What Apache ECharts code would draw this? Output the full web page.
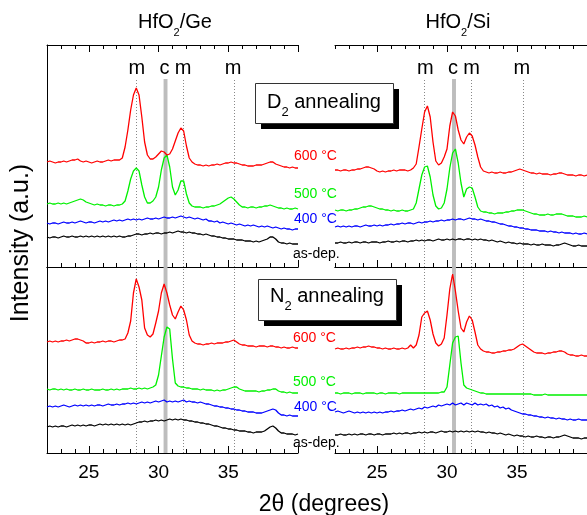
<!DOCTYPE html>
<html>
<head>
<meta charset="utf-8">
<script src="https://cdn.jsdelivr.net/npm/echarts@6/dist/echarts.min.js"></script>
<style>
  html, body { margin: 0; padding: 0; background: #fff; }
  #chart { width: 587px; height: 515px; }
</style>
</head>
<body>
<div id="chart"></div>
<script>
// XRD scans of HfO2 films on Ge and Si, D2 and N2 annealing, offset for clarity.
const twoTheta = [
  22, 22.2, 22.4, 22.6, 22.8, 23, 23.2, 23.4, 23.6, 23.8,
  24, 24.2, 24.4, 24.6, 24.8, 25, 25.2, 25.4, 25.6, 25.8,
  26, 26.2, 26.4, 26.6, 26.8, 27, 27.2, 27.4, 27.6, 27.8,
  28, 28.2, 28.4, 28.6, 28.8, 29, 29.2, 29.4, 29.6, 29.8,
  30, 30.2, 30.4, 30.6, 30.8, 31, 31.2, 31.4, 31.6, 31.8,
  32, 32.2, 32.4, 32.6, 32.8, 33, 33.2, 33.4, 33.6, 33.8,
  34, 34.2, 34.4, 34.6, 34.8, 35, 35.2, 35.4, 35.6, 35.8,
  36, 36.2, 36.4, 36.6, 36.8, 37, 37.2, 37.4, 37.6, 37.8,
  38, 38.2, 38.4, 38.6, 38.8, 39, 39.2, 39.4, 39.6, 39.8,
  40
];

// HfO2/Ge, D2 annealing
const geD2_600 = [
  105,106,105,104,105,105,106,105,106,107,
  107,108,106,105,106,105,104,105,106,105,
  105,106,107,106,107,107,107,109,120,137,
  157,172,179,172,150,125,112,108,108,110,
  113,116,115,112,113,118,126,134,139,136,
  121,109,105,103,102,102,101,102,101,102,
  102,103,102,103,104,104,105,104,104,103,
  102,102,101,101,101,102,102,102,103,104,
  105,105,103,102,101,100,100,99,100,99,
  99
];
const geD2_500 = [
  63,64,63,63,64,63,64,63,64,65,
  66,67,68,67,65,64,63,62,63,62,
  62,61,62,62,61,62,62,63,66,76,
  88,96,99,96,82,70,64,64,66,70,
  80,97,109,112,100,80,72,77,86,86,
  73,64,61,60,60,60,59,60,60,61,
  61,62,63,65,67,69,70,68,65,62,
  60,60,59,60,60,59,60,60,61,61,
  62,61,60,59,59,58,59,58,58,59,
  58
];
const geD2_400 = [
  44,43,44,44,43,44,45,44,44,45,
  44,45,46,45,44,45,45,44,45,46,
  45,46,45,46,47,46,47,46,47,48,
  47,48,47,48,47,48,49,48,48,49,
  48,49,50,49,49,50,49,50,51,50,
  49,50,49,48,49,48,47,48,46,46,
  45,46,44,45,44,43,44,43,42,43,
  42,41,42,41,42,41,40,41,40,41,
  40,39,40,39,38,39,38,38,37,38,
  38
];
const geD2_asdep = [
  30,29,30,30,29,30,31,30,30,31,
  30,30,31,30,31,30,31,30,31,30,
  31,30,31,30,31,30,31,30,30,31,
  31,32,33,33,32,33,33,34,33,34,
  34,33,34,34,35,34,35,36,35,35,
  34,35,34,34,33,33,32,33,32,31,
  31,30,30,29,29,28,28,28,27,27,
  27,26,26,26,25,26,25,26,27,28,
  30,30,28,25,24,24,23,24,23,23,
  23
];

// HfO2/Si, D2 annealing
const siD2_600 = [
  97,97,96,97,97,96,97,97,98,98,
  99,100,100,99,98,96,95,96,95,96,
  96,97,96,97,97,97,96,97,99,103,
  120,138,155,161,150,125,106,102,104,110,
  118,141,155,151,137,127,123,130,134,131,
  122,110,100,96,95,94,95,94,94,95,
  94,94,95,95,96,97,98,97,96,95,
  94,94,93,94,93,93,93,92,93,93,
  94,94,93,92,92,92,91,92,92,91,
  92
];
const siD2_500 = [
  57,56,57,57,56,57,57,58,58,59,
  60,60,61,61,60,59,58,58,57,57,
  56,57,56,56,57,56,56,57,58,64,
  78,92,100,101,90,72,61,58,59,64,
  78,99,114,118,104,84,70,78,80,79,
  70,60,56,55,55,54,54,53,54,54,
  54,55,55,56,56,57,57,57,56,55,
  54,53,53,52,52,52,53,52,52,53,
  53,53,52,51,51,51,50,50,50,51,
  50
];
const siD2_400 = [
  40,41,40,41,40,41,40,41,41,40,
  41,42,41,41,42,41,42,41,42,42,
  43,42,43,43,44,43,44,44,43,44,
  45,44,45,45,46,45,46,46,47,46,
  47,47,48,47,48,48,47,48,49,48,
  48,47,48,47,46,46,45,45,44,43,
  43,42,41,41,40,40,39,39,38,38,
  37,37,37,36,36,36,35,36,35,35,
  34,35,34,34,34,33,34,33,33,34,
  33
];
const siD2_asdep = [
  24,24,25,24,24,25,24,25,25,24,
  25,25,24,25,25,25,24,25,25,26,
  25,25,26,25,26,26,25,26,26,27,
  26,27,26,27,27,26,27,28,27,27,
  28,27,28,27,28,28,27,28,28,27,
  28,27,28,27,27,26,27,26,25,26,
  25,24,25,24,24,23,24,23,23,23,
  22,23,22,22,23,22,22,22,21,22,
  22,23,24,23,22,21,21,22,21,21,
  21
];

// HfO2/Ge, N2 annealing
const geN2_600 = [
  111,112,111,112,111,112,112,113,112,113,
  114,114,113,112,110,110,111,110,111,111,
  112,111,112,112,111,112,113,113,114,120,
  132,160,174,166,153,125,118,116,119,130,
  142,160,169,160,148,138,134,141,147,143,
  133,118,112,110,109,109,108,109,109,110,
  109,110,110,110,111,111,112,113,111,109,
  108,108,107,107,107,106,107,107,107,106,
  107,107,106,106,105,106,105,105,106,105,
  105
];
const geN2_500 = [
  64,63,64,64,63,64,63,64,63,63,
  64,63,63,64,63,63,64,63,63,63,
  64,63,63,64,63,64,63,64,64,64,
  65,64,64,65,64,65,64,65,66,68,
  78,97,116,126,124,94,70,67,66,66,
  65,65,64,64,64,63,64,63,63,63,
  62,63,62,63,63,64,65,66,66,64,
  63,62,62,62,62,62,61,62,62,63,
  63,64,64,62,61,61,60,61,60,60,
  60
];
const geN2_400 = [
  46,47,46,47,46,47,48,47,46,47,
  48,47,48,47,48,47,48,47,48,48,
  47,48,49,48,48,49,48,49,49,50,
  49,50,49,50,51,50,51,50,51,52,
  51,52,53,51,52,51,52,51,52,53,
  51,52,51,51,50,51,50,49,49,48,
  47,47,46,46,45,45,44,44,43,43,
  42,42,41,41,41,40,40,40,41,42,
  43,44,43,40,38,38,37,38,37,37,
  37
];
const geN2_asdep = [
  26,27,26,27,26,27,27,26,27,28,
  27,28,27,28,27,28,28,27,28,29,
  28,29,28,29,28,29,28,29,28,29,
  28,29,30,31,31,32,31,32,32,33,
  32,33,32,33,34,33,34,33,34,33,
  33,32,32,31,31,30,30,29,29,28,
  27,27,26,25,25,24,24,23,23,22,
  22,22,21,21,20,21,21,21,22,24,
  26,27,25,22,20,20,19,19,19,18,
  19
];

// HfO2/Si, N2 annealing
const siN2_600 = [
  104,105,104,104,105,104,105,105,106,105,
  106,106,107,106,106,105,105,104,105,104,
  104,105,104,104,105,104,105,108,105,108,
  118,136,140,142,133,119,110,107,109,115,
  138,164,179,162,142,125,121,131,137,133,
  121,108,104,102,101,101,100,100,101,101,
  102,102,103,103,104,106,108,109,107,105,
  103,101,100,100,100,99,100,100,101,101,
  102,102,101,99,98,98,97,97,98,97,
  97
];
const siN2_500 = [
  60,60,59,60,60,60,59,60,60,60,
  59,60,60,60,60,59,60,60,59,60,
  60,60,60,59,60,60,60,60,60,60,
  60,60,60,60,60,60,60,60,61,61,
  66,88,110,116,117,90,68,65,64,63,
  62,61,60,60,59,59,59,59,59,59,
  59,59,59,59,59,59,59,59,59,59,
  59,58,58,58,58,59,58,58,58,58,
  58,58,58,58,58,58,58,58,58,58,
  58
];
const siN2_400 = [
  41,42,41,40,41,42,41,40,41,40,
  41,40,41,40,41,40,41,40,41,41,
  42,41,42,42,43,42,43,44,43,44,
  45,44,46,45,46,47,46,48,47,48,
  49,48,50,48,49,50,48,50,49,48,
  50,48,49,48,49,47,48,46,47,45,
  46,44,45,43,42,41,40,39,39,38,
  38,37,37,36,36,35,36,35,35,34,
  35,34,34,33,34,33,33,34,33,33,
  33
];
const siN2_asdep = [
  18,18,19,18,18,19,18,19,18,19,
  19,18,19,19,18,19,19,18,19,19,
  19,20,19,20,19,20,20,19,20,20,
  21,20,21,20,21,21,20,21,22,21,
  21,22,21,22,21,22,21,22,21,22,
  21,22,21,21,20,21,20,20,19,20,
  19,18,19,18,17,18,17,17,16,17,
  16,16,17,16,16,15,16,16,15,16,
  16,17,18,17,16,15,15,15,14,15,
  15
];

// Axis ticks and reflection markers (monoclinic m, cubic c)
const majorTicks = [25, 30, 35, 40];
const tickLabels = [25, 30, 35];
const peakM = [28.4, 31.75, 35.45];
const cBand = [30.36, 30.64];
const peakNames = ['m', 'c', 'm', 'm'];
const peakNamePos = [28.45, 30.42, 31.75, 35.35];
const topMax = 222, bottomMax = 186;
const refTop = 188, labelLevel = 199;

const FF = "'Liberation Sans', Arial, Helvetica, sans-serif";
const RED = '#ff0000', GREEN = '#00f000', BLUE = '#0000ff', BLACK = '#000000';

function minorAxis(g, pos, line) {
  return {
    type: 'value', gridIndex: g, position: pos, offset: 0, min: 22, max: 40, interval: 1,
    axisLine: { show: line, onZero: false, lineStyle: { color: '#000', width: 1 } },
    axisTick: { show: true, inside: true, length: 4, lineStyle: { color: '#000', width: 1 } },
    axisLabel: { show: false }, splitLine: { show: false }
  };
}
function majorAxis(g, pos, labels) {
  return {
    type: 'value', gridIndex: g, position: pos, offset: 0, min: 22, max: 40,
    axisLine: { show: false, onZero: false },
    axisTick: { show: true, inside: true, length: 7, customValues: majorTicks,
                lineStyle: { color: '#000', width: 1 } },
    axisLabel: { show: labels, customValues: tickLabels, color: '#000', fontSize: 19,
                 fontFamily: FF, margin: 10 },
    splitLine: { show: false }
  };
}
function plainAxis(g, pos) {
  return {
    type: 'value', gridIndex: g, position: pos, offset: 0, min: 22, max: 40,
    axisLine: { show: true, onZero: false, lineStyle: { color: '#000', width: 1 } },
    axisTick: { show: false }, axisLabel: { show: false }, splitLine: { show: false }
  };
}
function yAxis(g, max, line) {
  return {
    type: 'value', gridIndex: g, min: 0, max: max,
    axisLine: { show: line, onZero: false, lineStyle: { color: '#000', width: 1 } },
    axisTick: { show: false }, axisLabel: { show: false }, splitLine: { show: false }
  };
}

const xAxes = [
  minorAxis(0, 'bottom', true), majorAxis(0, 'bottom', false),
  minorAxis(0, 'top', true), majorAxis(0, 'top', false),
  minorAxis(1, 'bottom', true), majorAxis(1, 'bottom', false),
  minorAxis(1, 'top', true), majorAxis(1, 'top', false),
  minorAxis(2, 'bottom', true), majorAxis(2, 'bottom', true), plainAxis(2, 'top'),
  minorAxis(3, 'bottom', true), majorAxis(3, 'bottom', true), plainAxis(3, 'top')
];
const dataAxis = [0, 4, 8, 11];

function curve(values, color, g) {
  return {
    type: 'line', xAxisIndex: dataAxis[g], yAxisIndex: g, z: 3,
    data: twoTheta.map((t, i) => [t, values[i]]),
    symbol: 'none', smooth: false, animation: false, silent: true,
    lineStyle: { color: color, width: 1.3 }, itemStyle: { color: color }
  };
}

function references(g, top) {
  const hi = top ? refTop : bottomMax;
  const s = {
    type: 'line', xAxisIndex: dataAxis[g], yAxisIndex: g, data: [], z: 1,
    silent: true, animation: false, symbol: 'none',
    markLine: {
      silent: true, z: 1, symbol: ['none', 'none'], label: { show: false },
      lineStyle: { type: [1, 2], color: '#888', width: 1 },
      data: peakM.map(v => [{ coord: [v, 0] }, { coord: [v, hi] }])
    },
    markArea: {
      silent: true, z: 1, itemStyle: { color: '#bdbdbd' },
      data: [[{ coord: [cBand[0], 0] }, { coord: [cBand[1], hi] }]]
    }
  };
  if (top) {
    s.markPoint = {
      silent: true, symbol: 'rect', symbolSize: 1,
      itemStyle: { color: 'rgba(0,0,0,0)' },
      label: { show: true, position: 'inside', formatter: p => p.name,
               color: '#000', fontSize: 20, fontFamily: FF },
      data: peakNames.map((n, i) => ({ name: n, coord: [peakNamePos[i], labelLevel] }))
    };
  }
  return s;
}

function richTitle(x, y, main1, main2, size, subSize, subPad) {
  return {
    type: 'text', x: x, y: y, z: 100, silent: true,
    style: {
      text: '{a|' + main1 + '}{s|2}{a|' + main2 + '}',
      align: 'center', verticalAlign: 'top',
      rich: {
        a: { fontSize: size, fontFamily: FF, fill: '#000', verticalAlign: 'top', lineHeight: size },
        s: { fontSize: subSize, fontFamily: FF, fill: '#000', verticalAlign: 'top',
             lineHeight: subSize, padding: [subPad, 0, 0, 0] }
      }
    }
  };
}
function box(x, y, w, h, label1, label2, tx, ty) {
  return [
    { type: 'rect', z: 98, silent: true, shape: { x: x + 6, y: y + 6, width: w, height: h },
      style: { fill: '#000' } },
    { type: 'rect', z: 99, silent: true, shape: { x: x + 0.5, y: y + 0.5, width: w, height: h },
      style: { fill: '#fff', stroke: '#333', lineWidth: 1 } },
    richTitle(tx, ty, label1, label2, 20, 13, 14)
  ];
}
function tag(text, x, y, color) {
  return { type: 'text', x: x, y: y, z: 100, silent: true,
           style: { text: text, fill: color, fontSize: 14, fontFamily: FF,
                    align: 'left', verticalAlign: 'middle' } };
}

const option = {
  backgroundColor: '#fff',
  animation: false,
  grid: [
    { left: 47, top: 45, width: 251, height: 222 },
    { left: 335, top: 45, width: 252, height: 222 },
    { left: 47, top: 267, width: 251, height: 186 },
    { left: 335, top: 267, width: 252, height: 186 }
  ],
  xAxis: xAxes,
  yAxis: [yAxis(0, topMax, true), yAxis(1, topMax, false),
          yAxis(2, bottomMax, true), yAxis(3, bottomMax, false)],
  series: [
    references(0, true), references(1, true), references(2, false), references(3, false),
    curve(geD2_asdep, BLACK, 0), curve(geD2_400, BLUE, 0), curve(geD2_500, GREEN, 0), curve(geD2_600, RED, 0),
    curve(siD2_asdep, BLACK, 1), curve(siD2_400, BLUE, 1), curve(siD2_500, GREEN, 1), curve(siD2_600, RED, 1),
    curve(geN2_asdep, BLACK, 2), curve(geN2_400, BLUE, 2), curve(geN2_500, GREEN, 2), curve(geN2_600, RED, 2),
    curve(siN2_asdep, BLACK, 3), curve(siN2_400, BLUE, 3), curve(siN2_500, GREEN, 3), curve(siN2_600, RED, 3)
  ],
  graphic: [
    richTitle(175, 12, 'HfO', '/Ge', 20, 11, 15),
    richTitle(458, 12, 'HfO', '/Si', 20, 11, 15),
    ...box(255, 83, 138, 40, 'D', ' annealing', 324, 92),
    ...box(258, 279, 138, 41, 'N', ' annealing', 327, 286),
    tag('600 °C', 294, 156, RED), tag('500 °C', 294, 194, GREEN),
    tag('400 °C', 294, 219, BLUE), tag('as-dep.', 293, 254, BLACK),
    tag('600 °C', 293, 338, RED), tag('500 °C', 293, 382, GREEN),
    tag('400 °C', 294, 407, BLUE), tag('as-dep.', 293, 443, BLACK),
    { type: 'text', x: 21, y: 243, rotation: Math.PI / 2, z: 100, silent: true,
      style: { text: 'Intensity (a.u.)', fontSize: 25, fontFamily: FF, fill: '#000',
               align: 'center', verticalAlign: 'middle' } },
    { type: 'text', x: 324, y: 505, z: 100, silent: true,
      style: { text: '2θ (degrees)', fontSize: 23, fontFamily: FF, fill: '#000',
               align: 'center', verticalAlign: 'middle' } }
  ]
};

const chart = echarts.init(document.getElementById('chart'), null, { renderer: 'canvas' });
chart.setOption(option);
</script>
</body>
</html>
